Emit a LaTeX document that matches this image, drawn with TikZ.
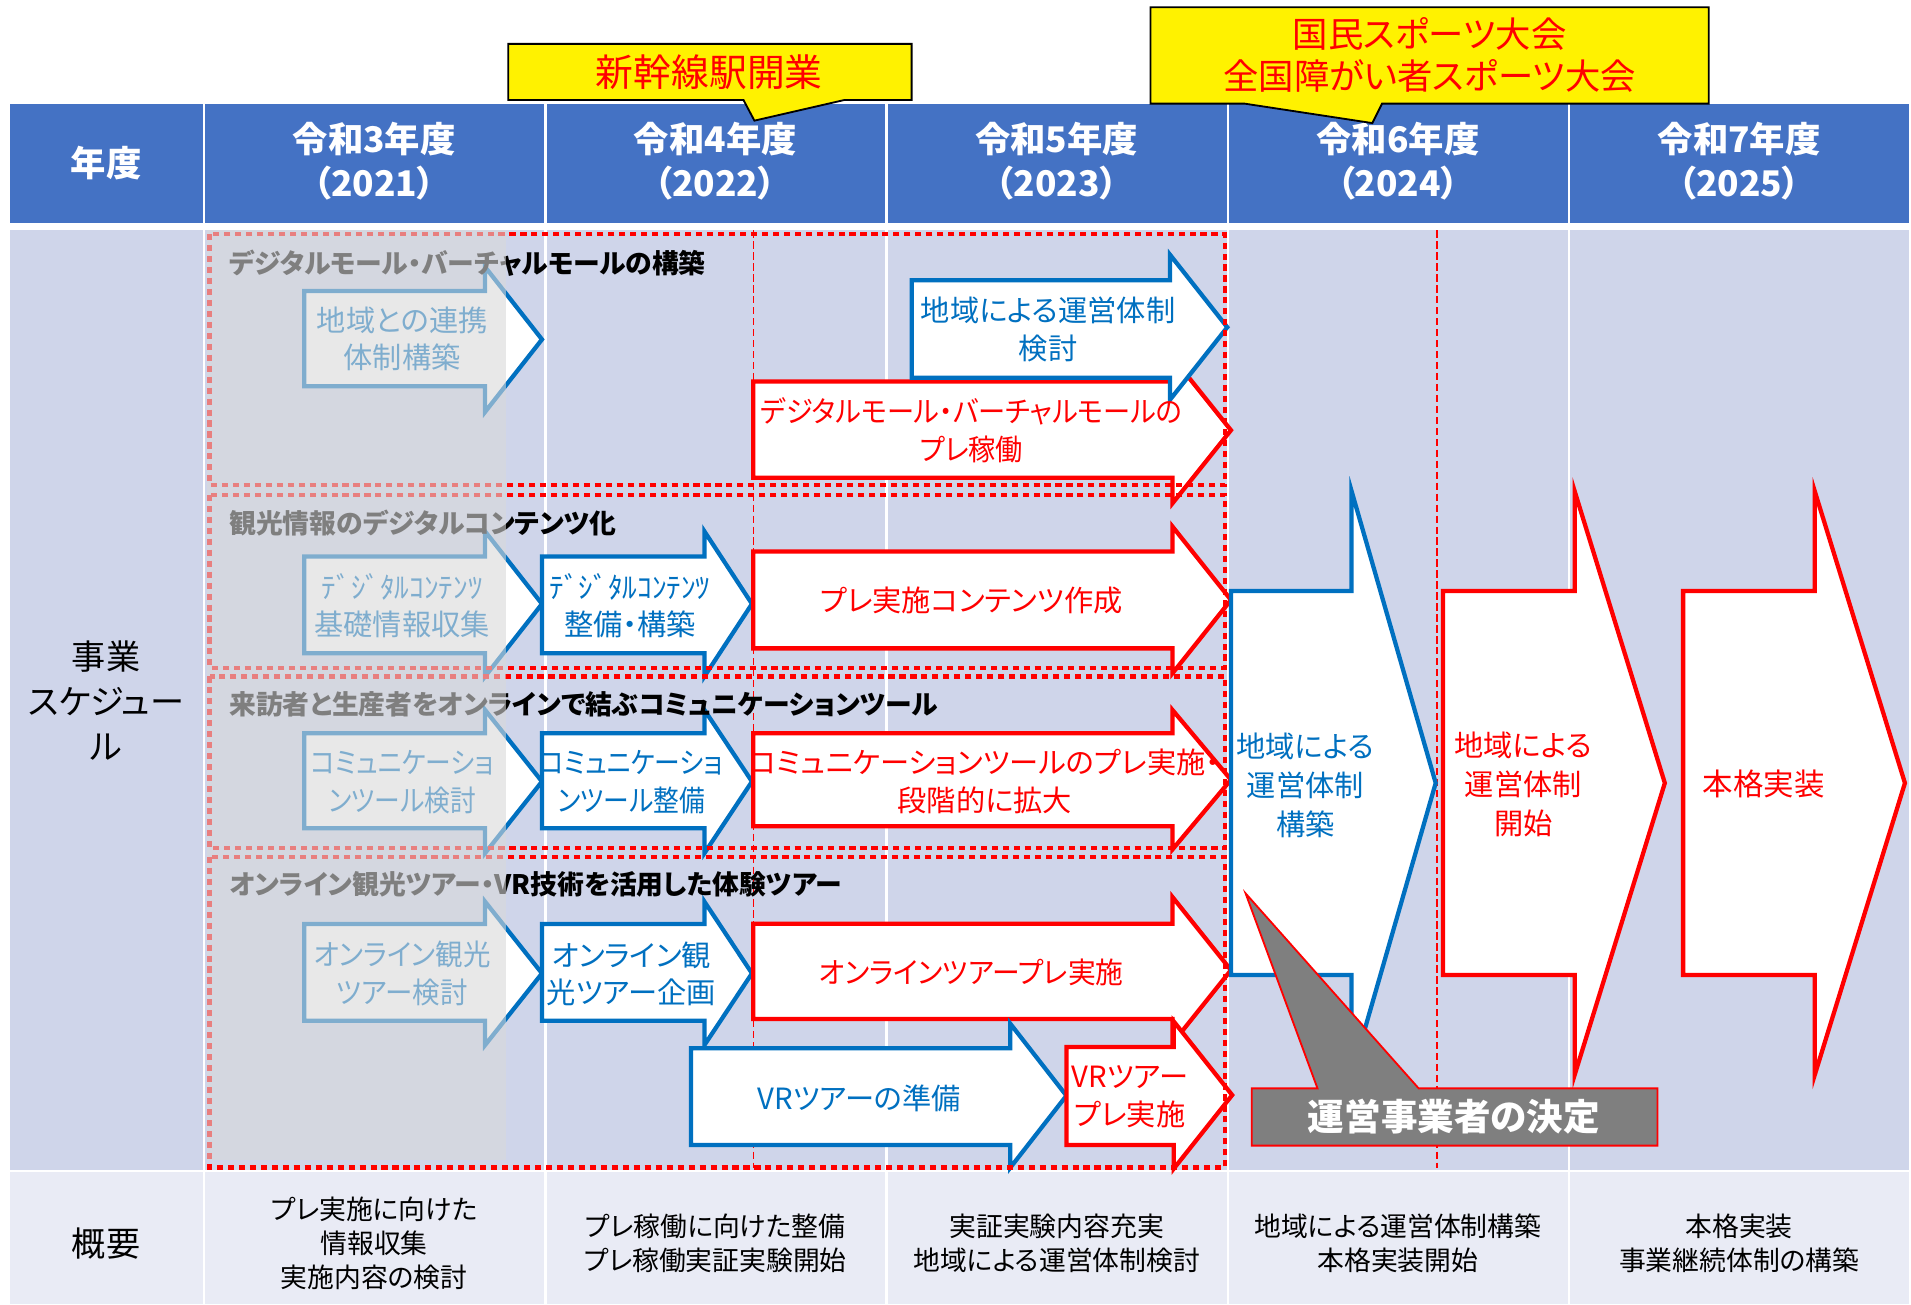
\documentclass[tikz,border=0pt]{standalone}
\usepackage{fontspec}
\setmainfont{Noto Sans CJK JP}[CharacterWidth=AlternateProportional]
\usetikzlibrary{calc}
\definecolor{hdrblue}{HTML}{4472C4}
\definecolor{bodybg}{HTML}{CFD5EA}
\definecolor{sumbg}{HTML}{E9EBF5}
\definecolor{arrblue}{HTML}{0070C0}
\definecolor{arrred}{HTML}{FF0000}
\definecolor{fadegray}{HTML}{D9D9D9}
\definecolor{notegray}{HTML}{7F7F7F}
\tikzset{
  hdrtxt/.style={text=white, inner sep=0, align=center, font=\fontsize{29}{36}\selectfont\bfseries},
  sidetxt/.style={inner sep=0, align=center, font=\fontsize{28}{37}\selectfont},
  sumtxt/.style={inner sep=0, align=center, font=\fontsize{22}{28}\selectfont},
  grptitle/.style={anchor=west, inner sep=0, font=\fontsize{22}{26}\selectfont\bfseries},
  bluearr/.style={draw=arrblue, fill=white, line width=3.5pt, line join=miter},
  redarr/.style={draw=arrred, fill=white, line width=3.5pt, line join=miter},
  bluetxt/.style={text=arrblue, inner sep=0, align=center, font=\fontsize{24}{31}\selectfont},
  redtxt/.style={text=arrred, inner sep=0, align=center, font=\fontsize{24}{31}\selectfont},
  squeeze/.style={font=\fontsize{24}{31}\selectfont\addfontfeature{FakeStretch=#1}},
  grpbox/.style={draw=arrred, line width=3.5pt, dash pattern=on 5pt off 4pt},
  midline/.style={draw=arrred, line width=1pt, dash pattern=on 6pt off 3pt},
  notebox/.style={fill=yellow, draw=black, line width=1.5pt},
  notetxt/.style={text=arrred, inner sep=0, align=center, font=\fontsize{29}{34}\selectfont}
}

\begin{document}
\begin{tikzpicture}[x=1pt,y=-1pt]
  \useasboundingbox (0,0) rectangle (1568,1070);
  \fill[hdrblue] (8,85) rectangle (1566,183);
  \fill[bodybg] (8,189) rectangle (1566,960);
  \fill[sumbg] (8,962) rectangle (1566,1070);
  \foreach \x in {167.5,447.5,727.5,1007.5,1287.5}{
    \draw[white, line width=2pt] (\x,85) -- (\x,1070);
  }
  \draw[midline] (618,189) -- (618,958);
  \draw[midline] (1179,189) -- (1179,958);

  \foreach \nm/\xl/\yt/\yb/\xh/\yht/\yhb/\xt/\sty in {
    A1/249.7/238.8/317/398/219/338/444.7/bluearr,
    B1/249.7/456.7/536/398/436/555/444.7/bluearr,
    C1/249.7/601.7/679.6/398/582.5/700/444.7/bluearr,
    D1/249.7/758.2/837.5/398/739.8/857.5/444.7/bluearr,
    B2/444.7/456.7/536/578/436/555/617/bluearr,
    C2/444.7/601.7/679.6/578/582.5/700/617/bluearr,
    D2/444.7/758.2/837.5/578/739.8/857.5/617/bluearr,
    A3/618/313/392/962/293/413/1010/redarr,
    A2/748/230/310/960/209/328/1007/bluearr,
    B3/618/452.6/532/962/432/552.5/1010/redarr,
    C3/618/601.7/678/962/582.5/697/1010/redarr,
    D3/618/758/836/962/736/856/1010/redarr,
    E1/567/860/939.5/829/840/958/875/bluearr,
    E2/875/859/939.5/963/838/959/1011/redarr,
    F1/1010/485/800/1109/403/882/1178/bluearr,
    F2/1184/485/800/1292/403/882/1366/redarr,
    F3/1381/485/800/1489/403/882/1563/redarr%
  }{
    \draw[\sty] (\xl,\yt) -- (\xh,\yt) -- (\xh,\yht) -- (\xt,{(\yht+\yhb)/2})
      -- (\xh,\yhb) -- (\xh,\yb) -- (\xl,\yb) -- cycle;
  }

  \node[bluetxt] (tA1) at (330,278) {地域との連携\\体制構築};
  \node[bluetxt] (tB1) at (330,497) {ﾃﾞｼﾞﾀﾙｺﾝﾃﾝﾂ\\基礎情報収集};
  \node[bluetxt, squeeze=0.88] (tC1) at (330,642) {コミュニケーショ\\ンツール検討};
  \node[bluetxt, squeeze=0.94] (tD1) at (330,799) {オンライン観光\\ツアー検討};
  \node[bluetxt] (tB2) at (517,497) {ﾃﾞｼﾞﾀﾙｺﾝﾃﾝﾂ\\整備・構築};
  \node[bluetxt, squeeze=0.88] (tC2) at (518,642) {コミュニケーショ\\ンツール整備};
  \node[bluetxt] (tD2) at (518,799) {オンライン観\\光ツアー企画};
  \node[bluetxt] (tA2) at (860,270) {地域による運営体制\\検討};
  \node[redtxt, squeeze=0.93] (tA3) at (797,353) {デジタルモール・バーチャルモールの\\プレ稼働};
  \node[redtxt] (tB3) at (797,493) {プレ実施コンテンツ作成};
  \node[redtxt] (tC3) at (808,641) {コミュニケーションツールのプレ実施・\\段階的に拡大};
  \node[redtxt, squeeze=0.95] (tD3) at (797,798) {オンラインツアープレ実施};
  \node[bluetxt] (tE1) at (705,901) {VRツアーの準備};
  \node[redtxt] (tE2) at (927,900) {VRツアー\\プレ実施};
  \node[bluetxt, font=\fontsize{24}{32}\selectfont] (tF1) at (1071,644) {地域による\\運営体制\\構築};
  \node[redtxt, font=\fontsize{24}{32}\selectfont] (tF2) at (1250,644) {地域による\\運営体制\\開始};
  \node[redtxt, font=\fontsize{25}{32}\selectfont] (tF3) at (1447,643) {本格実装};

  \foreach \i/\y/\t in {
    1/216/デジタルモール・バーチャルモールの構築,
    2/429/観光情報のデジタルコンテンツ化,
    3/578/来訪者と生産者をオンラインで結ぶコミュニケーションツール,
    4/726/オンライン観光ツアー・VR技術を活用した体験ツアー%
  }{
    \node[grptitle] (grp\i) at (188,\y) {\t};
  }
  \foreach \i/\ya/\yb in {1/192/398, 2/406/548, 3/555/696, 4/703/958}{
    \draw[grpbox] (172,\ya) rectangle (1005,\yb);
  }
  \fill[fadegray, opacity=0.59] (170,189) rectangle (415,952);

  \draw[fill=notegray, draw=arrred, line width=1.5pt] (1027,893) -- (1081,893) -- (1022,733)
    -- (1164,893) -- (1360,893) -- (1360,940) -- (1027,940) -- cycle;
  \node[text=white, inner sep=0, font=\fontsize{30}{32}\selectfont\bfseries] (decide) at (1193,916) {運営事業者の決定};

  \node[hdrtxt] (yearhdr) at (87,134) {年度};
  \foreach \i/\x/\yr/\g in {1/307/3/2021, 2/587/4/2022, 3/867/5/2023, 4/1147/6/2024, 5/1427/7/2025}{
    \node[hdrtxt] (year\i) at (\x,132) {令和\yr 年度\\（\g）};
  }
  \node[sidetxt] (sched) at (87,575) {事業\\スケジュー\\ル};
  \node[sidetxt] (summ) at (87,1020) {概要};
  \node[sumtxt] (sum1) at (307,1020) {プレ実施に向けた\\情報収集\\実施内容の検討};
  \node[sumtxt] (sum2) at (587,1020) {プレ稼働に向けた整備\\プレ稼働実証実験開始};
  \node[sumtxt] (sum3) at (867,1020) {実証実験内容充実\\地域による運営体制検討};
  \node[sumtxt] (sum4) at (1147,1020) {地域による運営体制構築\\本格実装開始};
  \node[sumtxt] (sum5) at (1427,1020) {本格実装\\事業継続体制の構築};

  \draw[notebox] (417,36) -- (748,36) -- (748,82) -- (693,82) -- (619,99) -- (610,82) -- (417,82) -- cycle;
  \node[notetxt, font=\fontsize{31}{34}\selectfont] (shinkansen) at (582,59) {新幹線駅開業};
  \draw[notebox] (944,6) -- (1402,6) -- (1402,85) -- (1134,85) -- (1126,101) -- (1021,85) -- (944,85) -- cycle;
  \node[notetxt] (sports) at (1173,45) {国民スポーツ大会\\全国障がい者スポーツ大会};
\end{tikzpicture}
\end{document}
